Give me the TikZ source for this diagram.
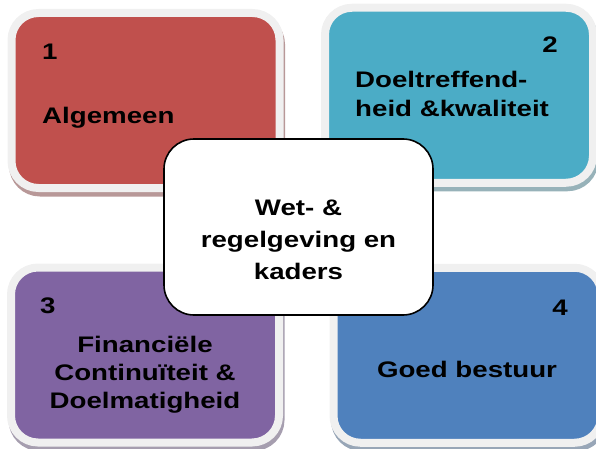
\documentclass[tikz,border=0pt]{standalone}
\usepackage{fontspec}
\newfontfamily\lbl{Liberation Sans}[FakeStretch=1.23]
\definecolor{cRed}{HTML}{C0504D}
\definecolor{cTeal}{HTML}{4BACC6}
\definecolor{cPurple}{HTML}{8064A2}
\definecolor{cBlue}{HTML}{4F81BD}
\definecolor{frameGray}{HTML}{F0F0F0}
\tikzset{
  quad/.style={rectangle, rounded corners=27pt, inner sep=0pt, outer sep=0pt,
    minimum width=268pt, minimum height=175pt, fill=#1, draw=frameGray, line width=8pt},
  quadshadow/.style={rectangle, rounded corners=27pt, inner sep=0pt, outer sep=0pt,
    minimum width=268pt, minimum height=175pt, fill=#1!40!gray!70!white, draw=#1!40!gray!70!white, line width=8pt},
  centerbox/.style={rectangle, rounded corners=30pt, inner sep=0pt, outer sep=0pt,
    minimum width=269pt, minimum height=176pt, fill=white, draw=black, line width=1.6pt},
  txt/.style={inner sep=0pt, font=\lbl\bfseries\fontsize{22.5}{27}\selectfont, text=black}
}
\begin{document}
\begin{tikzpicture}[x=1pt,y=1pt]
\useasboundingbox (0,0) rectangle (596,448);
% shadows
\node[quadshadow=cRed]    (s1) at (147,343) {};
\node[quadshadow=cTeal]   (s2) at (460.5,348.25) {};
\node[quadshadow=cPurple] (s3) at (146.5,88.5) {};
\node[quadshadow=cBlue]   (s4) at (469,88.25) {};
% quadrant boxes
\node[quad=cRed]    (b1) at (145.5,347.5) {};
\node[quad=cTeal]   (b2) at (459,352.75) {};
\node[quad=cPurple] (b3) at (145,93) {};
\node[quad=cBlue]   (b4) at (467.5,92.75) {};
% texts box 1
\node[txt, anchor=base west] (n1) at (42,388) {1};
\node[txt, anchor=base west] (t1) at (42,324) {Algemeen};
% texts box 2
\node[txt, anchor=base east] (n2) at (558,395) {2};
\node[txt, anchor=base west] (t2a) at (355,360) {Doeltreffend-};
\node[txt, anchor=base west] (t2b) at (355,331) {heid \&kwaliteit};
% texts box 3
\node[txt, anchor=base west] (n3) at (40,135) {3};
\node[txt, anchor=base] (t3a) at (145,96) {Financiële};
\node[txt, anchor=base] (t3b) at (145,68) {Continuïteit \&};
\node[txt, anchor=base] (t3c) at (145,40) {Doelmatigheid};
% texts box 4
\node[txt, anchor=base east] (n4) at (568,133) {4};
\node[txt, anchor=base] (t4) at (467,71) {Goed bestuur};
% center box
\node[centerbox] (c) at (298.5,221) {};
\node[txt, anchor=base] (ca) at (298.5,233) {Wet- \&};
\node[txt, anchor=base] (cb) at (298.5,201) {regelgeving en};
\node[txt, anchor=base] (cc) at (298.5,169) {kaders};
\end{tikzpicture}
\end{document}
